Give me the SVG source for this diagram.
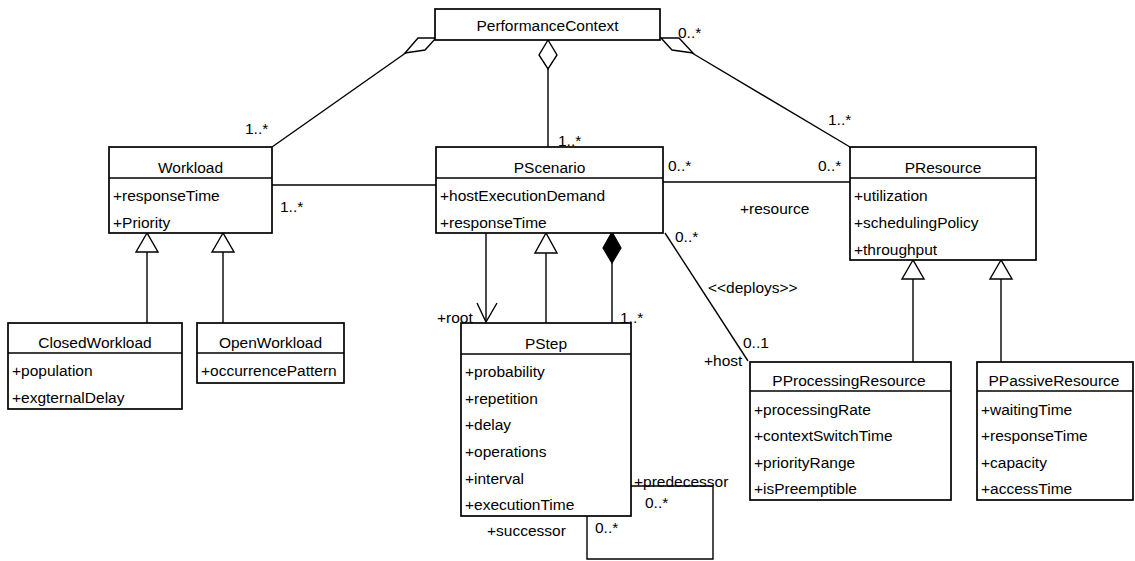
<svg xmlns="http://www.w3.org/2000/svg" width="1135" height="561" viewBox="0 0 1135 561">
<style>
.box{fill:#fff;stroke:#000;stroke-width:1.7}
.sep{stroke:#000;stroke-width:1.5}
.ln{fill:none;stroke:#000;stroke-width:1.4}
.hol{fill:#fff;stroke:#000;stroke-width:1.4}
.fil{fill:#000;stroke:#000;stroke-width:1.2}
text{font-family:"Liberation Sans",Arial,sans-serif;font-size:15.5px;fill:#000}
.t{text-anchor:middle}
</style>
<rect width="1135" height="561" fill="#fff"/>
<g id="connectors">
  <line class="ln" x1="407" y1="52" x2="272" y2="147"/>
  <polygon class="hol" points="436,38 418,38 405,53 425,50"/>
  <line class="ln" x1="548" y1="69" x2="548" y2="147"/>
  <polygon class="hol" points="548,40 557,55 548,69 539,55"/>
  <line class="ln" x1="692" y1="53" x2="850" y2="147"/>
  <polygon class="hol" points="661,38 679,38 693,53 672,50"/>
  <line class="ln" x1="272" y1="185" x2="436" y2="185"/>
  <line class="ln" x1="663" y1="182" x2="850" y2="182"/>
  <line class="ln" x1="665" y1="233" x2="748" y2="361"/>
  <line class="ln" x1="486" y1="233" x2="486" y2="322"/>
  <polyline class="ln" points="477,303 486,322 497,303"/>
  <line class="ln" x1="546" y1="253" x2="546" y2="323"/>
  <polygon class="hol" points="546,233 535,253 557,253"/>
  <line class="ln" x1="612" y1="263" x2="612" y2="323"/>
  <polygon class="fil" points="612,232 621,248 612,263 603,248"/>
  <line class="ln" x1="147" y1="252" x2="147" y2="323"/>
  <polygon class="hol" points="147,233 136,252 158,252"/>
  <line class="ln" x1="223" y1="252" x2="223" y2="323"/>
  <polygon class="hol" points="223,233 212,252 234,252"/>
  <line class="ln" x1="913" y1="279" x2="913" y2="362"/>
  <polygon class="hol" points="913,260 902,279 924,279"/>
  <line class="ln" x1="1001" y1="279" x2="1001" y2="362"/>
  <polygon class="hol" points="1001,260 990,279 1012,279"/>
  <polyline class="ln" points="631,486 713,486 713,559 587,559 587,516"/>
  <text x="245" y="134">1..*</text>
  <text x="558" y="146">1..*</text>
  <text x="678" y="38">0..*</text>
  <text x="828" y="125">1..*</text>
  <text x="280" y="212">1..*</text>
  <text x="668" y="171">0..*</text>
  <text x="818" y="171">0..*</text>
  <text x="740" y="214">+resource</text>
  <text x="675" y="242">0..*</text>
  <text x="708" y="293">&lt;&lt;deploys&gt;&gt;</text>
  <text x="743" y="348">0..1</text>
  <text x="704" y="366">+host</text>
  <text x="437" y="323">+root</text>
  <text x="620" y="323">1..*</text>
  <text x="634" y="487">+predecessor</text>
  <text x="645" y="508">0..*</text>
  <text x="595" y="533">0..*</text>
  <text x="487" y="536">+successor</text>
</g>
<g id="PerformanceContext">
  <rect class="box" x="435" y="9" width="225" height="31"/>
  <text class="t" x="547.5" y="31">PerformanceContext</text>
</g>
<g id="Workload">
  <rect class="box" x="109" y="147" width="163" height="86"/>
  <line class="sep" x1="109" y1="178" x2="272" y2="178"/>
  <text class="t" x="190.5" y="173">Workload</text>
  <text x="113" y="201">+responseTime</text>
  <text x="113" y="228">+Priority</text>
</g>
<g id="PScenario">
  <rect class="box" x="436" y="147" width="227" height="86"/>
  <line class="sep" x1="436" y1="178" x2="663" y2="178"/>
  <text class="t" x="549.5" y="173">PScenario</text>
  <text x="440" y="201">+hostExecutionDemand</text>
  <text x="440" y="228">+responseTime</text>
</g>
<g id="PResource">
  <rect class="box" x="850" y="147" width="186" height="113"/>
  <line class="sep" x1="850" y1="178" x2="1036" y2="178"/>
  <text class="t" x="943" y="173">PResource</text>
  <text x="854" y="201">+utilization</text>
  <text x="854" y="228">+schedulingPolicy</text>
  <text x="854" y="255">+throughput</text>
</g>
<g id="ClosedWorkload">
  <rect class="box" x="8" y="323" width="174" height="86"/>
  <line class="sep" x1="8" y1="353" x2="182" y2="353"/>
  <text class="t" x="95" y="348">ClosedWorkload</text>
  <text x="12" y="376">+population</text>
  <text x="12" y="403">+exgternalDelay</text>
</g>
<g id="OpenWorkload">
  <rect class="box" x="197" y="323" width="147" height="60"/>
  <line class="sep" x1="197" y1="353" x2="344" y2="353"/>
  <text class="t" x="270.5" y="348">OpenWorkload</text>
  <text x="201" y="376">+occurrencePattern</text>
</g>
<g id="PStep">
  <rect class="box" x="461" y="323" width="170" height="193"/>
  <line class="sep" x1="461" y1="354" x2="631" y2="354"/>
  <text class="t" x="546" y="349">PStep</text>
  <text x="465" y="377">+probability</text>
  <text x="465" y="404">+repetition</text>
  <text x="465" y="430">+delay</text>
  <text x="465" y="457">+operations</text>
  <text x="465" y="484">+interval</text>
  <text x="465" y="510">+executionTime</text>
</g>
<g id="PProcessingResource">
  <rect class="box" x="750" y="362" width="201" height="138"/>
  <line class="sep" x1="750" y1="391" x2="951" y2="391"/>
  <text class="t" x="849" y="386">PProcessingResource</text>
  <text x="754" y="415">+processingRate</text>
  <text x="754" y="441">+contextSwitchTime</text>
  <text x="754" y="468">+priorityRange</text>
  <text x="754" y="494">+isPreemptible</text>
</g>
<g id="PPassiveResource">
  <rect class="box" x="977" y="362" width="156" height="138"/>
  <line class="sep" x1="977" y1="391" x2="1133" y2="391"/>
  <text class="t" x="1054" y="386">PPassiveResource</text>
  <text x="981" y="415">+waitingTime</text>
  <text x="981" y="441">+responseTime</text>
  <text x="981" y="468">+capacity</text>
  <text x="981" y="494">+accessTime</text>
</g>
</svg>
